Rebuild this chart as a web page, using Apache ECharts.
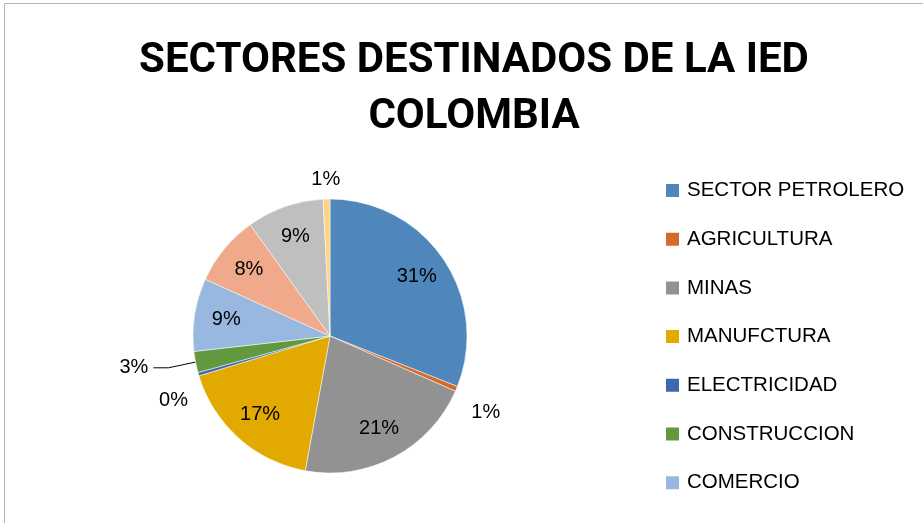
<html>
<head>
<meta charset="utf-8">
<title>ECharts</title>
<style>
html, body { margin: 0; padding: 0; background: #fff; }
</style>
</head>
<body>
<div id="main" style="width: 923px;height:523px;"></div>
<script src="https://cdn.jsdelivr.net/npm/echarts@6/dist/echarts.min.js"></script>
<script>
var titulo = 'SECTORES DESTINADOS DE LA IED\nCOLOMBIA';
var sectores = ['SECTOR PETROLERO', 'AGRICULTURA', 'MINAS', 'MANUFCTURA', 'ELECTRICIDAD',
    'CONSTRUCCION', 'COMERCIO', 'TRANSPORTE', 'SERVICIOS', 'OTROS'];
var valores = [31.0, 0.6, 21.3, 17.4, 0.4, 2.5, 8.6, 8.3, 9.1, 0.8];
var colores = ['#4F87BC', '#D46B29', '#929292', '#E2A900', '#3F67AE',
    '#62993E', '#98B8DF', '#F0A98B', '#BFBFBF', '#FFD384'];
// los que llevan la etiqueta afuera
var afuera = ['AGRICULTURA', 'ELECTRICIDAD', 'CONSTRUCCION', 'OTROS'];
// corrimiento de las etiquetas de afuera
var corrimiento = {AGRICULTURA: [-7, 18], ELECTRICIDAD: [12, 11], OTROS: [23, -6]};

var chart = echarts.init(document.getElementById('main'));

function pct(p) { return Math.round(p.percent) + '%'; }

var datos = sectores.map(function (n, i) {
    var fuera = afuera.indexOf(n) >= 0;
    var item = {
        name: n,
        value: valores[i],
        itemStyle: {color: colores[i]},
        label: {show: fuera},
        labelLine: {show: n == 'CONSTRUCCION'}
    };
    if (n == 'CONSTRUCCION') item.labelLine.length = 30, item.labelLine.length2 = 15;
    return item;
});

var datosInt = sectores.map(function (n, i) {
    return {
        name: n,
        value: valores[i],
        label: {show: afuera.indexOf(n) < 0}
    };
});

var option = {
    backgroundColor: '#fff',
    animation: false,
    graphic: [{
        type: 'rect',
        shape: {x: 4.5, y: 3.5, width: 1000, height: 700},
        style: {fill: 'none', stroke: '#b4b4b4', lineWidth: 1}
    }],
    title: {
        text: titulo,
        left: 469,
        top: 28,
        textAlign: 'center',
        textStyle: {
            fontFamily: 'Roboto',
            fontWeight: 'bold',
            fontSize: 42,
            lineHeight: 56,
            color: '#000'
        }
    },
    legend: {
        orient: 'vertical',
        left: 664,
        top: 180,
        padding: 0,
        itemWidth: 15,
        itemHeight: 15,
        itemGap: 27.7,
        icon: 'rect',
        data: sectores.slice(0, 7),
        textStyle: {fontFamily: 'Liberation Sans', fontSize: 20.5, color: '#000', padding: [0, 0, 0, 2]}
    },
    series: [{
        type: 'pie',
        center: [330, 336],
        radius: 137,
        startAngle: 90,
        clockwise: true,
        avoidLabelOverlap: true,
        data: datos,
        itemStyle: {borderColor: '#fff', borderWidth: 0.5},
        label: {
            position: 'outside',
            formatter: pct,
            fontFamily: 'Liberation Sans',
            fontSize: 20,
            color: '#000'
        },
        labelLine: {length: 14, length2: 4, lineStyle: {color: '#000', width: 1}},
        labelLayout: function (p) {
            var c = corrimiento[sectores[p.dataIndex]];
            return c ? {dx: c[0], dy: c[1]} : {};
        },
        emphasis: {disabled: true}
    }, {
        type: 'pie',
        center: [330, 336],
        radius: [67, 137],
        startAngle: 90,
        clockwise: true,
        silent: true,
        data: datosInt,
        itemStyle: {color: 'rgba(0,0,0,0)'},
        label: {
            position: 'inside',
            formatter: pct,
            fontFamily: 'Liberation Sans',
            fontSize: 20,
            color: '#000'
        },
        labelLine: {show: false},
        emphasis: {disabled: true}
    }]
};

chart.setOption(option);
</script>
</body>
</html>
